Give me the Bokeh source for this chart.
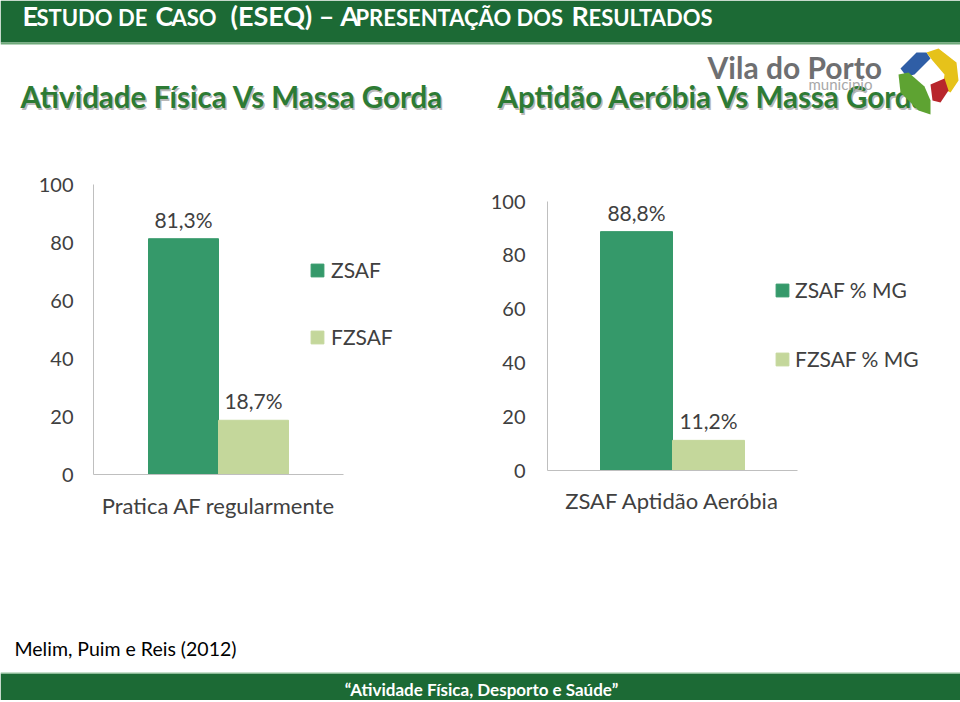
from bokeh.plotting import figure
from bokeh.models import Range1d, FixedTicker, ColumnDataSource, Legend, LegendItem
from bokeh.layouts import column, row
from bokeh.core.properties import value
from bokeh.embed import file_html
from bokeh.resources import INLINE

# ---------------- data ----------------
chart1_category = ["Pratica AF regularmente"]
chart1_series = ["ZSAF", "FZSAF"]
chart1_values = [81.3, 18.7]

chart2_category = ["ZSAF Aptidão Aeróbia"]
chart2_series = ["ZSAF % MG", "FZSAF % MG"]
chart2_values = [88.8, 11.2]

y_ticks = [0, 20, 40, 60, 80, 100]

subtitle_left = "Atividade Física Vs Massa Gorda"
subtitle_right = "Aptidão Aeróbia Vs Massa Gorda"
citation = "Melim, Puim e Reis (2012)"
footer_quote = "“Atividade Física, Desporto e Saúde”"

# ---------------- style ----------------
FONT = "Lato"
BAR_COLORS = ["#35996A", "#C4D79B"]
BANNER = "#1C6A35"
TEXT_DARK = "#404040"
AXIS_GREY = "#BFBFBF"


def fmt(v):
    return f"{v:.1f}".replace(".", ",") + "%"


def deco_fig(w, h, x0, x1, y0, y1):
    p = figure(width=w, height=h, x_range=Range1d(x0, x1), y_range=Range1d(y1, y0),
               output_backend="svg", toolbar_location=None,
               min_border=0, min_border_left=0, min_border_right=0,
               min_border_top=0, min_border_bottom=0)
    p.axis.visible = False
    p.grid.visible = False
    p.outline_line_color = None
    return p


def mid_y(baseline, size):
    # centre of the em box for a given alphabetic baseline
    return baseline - 0.36 * size


# ---------------- header ----------------
header = deco_fig(960, 165, 0, 960, 0, 165)
header.quad(left=[0], right=[960], top=[0], bottom=[42], fill_color=BANNER, line_color=None)
header.quad(left=[0], right=[960], top=[42], bottom=[44], fill_color="#6FA97A", line_color=None)

BIG, SMALL = 27, 22
title_segments = [
    ("E", 22, BIG),
    ("STUDO DE", 36, SMALL),
    ("C", 155, BIG),
    ("ASO", 171, SMALL),
    ("(ESEQ) – A", 230, BIG),
    ("PRESENTAÇÃO DOS", 355, SMALL),
    ("R", 571, BIG),
    ("ESULTADOS", 588, SMALL),
]
for txt, x, size in title_segments:
    header.text(x=[x], y=[mid_y(25, size)], text=[txt], text_font=value(FONT), text_font_style="bold",
                text_font_size=f"{size}px", text_color="white", text_baseline="middle",
                text_align="left")

SUB = 29.5
for txt, x in [(subtitle_left, 20), (subtitle_right, 497)]:
    header.text(x=[x + 1.5], y=[mid_y(107, SUB) + 1.5], text=[txt], text_font=value(FONT),
                text_font_style="bold", text_font_size=f"{SUB}px", text_color="#7A7A7A",
                text_alpha=0.55, text_baseline="middle", text_align="left")
    header.text(x=[x], y=[mid_y(107, SUB)], text=[txt], text_font=value(FONT), text_font_style="bold",
                text_font_size=f"{SUB}px", text_color="#2D7B34",
                text_baseline="middle", text_align="left")

# logo
header.text(x=[707], y=[mid_y(77, 30)], text=["Vila do Porto"], text_font=value(FONT),
            text_font_style="bold", text_font_size="30px", text_color="#6E6F71",
            text_baseline="middle")
header.text(x=[808], y=[mid_y(89, 15)], text=["municipio"], text_font=value(FONT),
            text_font_size="15px", text_color="#A8A8A8", text_baseline="middle")
logo_parts = [
    ([900, 916, 926, 930, 914, 906], [68, 52, 52, 58, 74, 76], "#2F5EA6"),
    ([926, 938, 956, 958, 950, 942, 944, 932], [52, 48, 62, 80, 92, 88, 74, 60], "#E6C21A"),
    ([898, 908, 924, 930, 930, 918, 900], [74, 72, 86, 100, 114, 110, 92], "#5EA332"),
    ([930, 944, 948, 940, 932], [84, 78, 90, 102, 100], "#B8262C"),
]
for xs, ys, c in logo_parts:
    header.patch(x=xs, y=ys, fill_color=c, line_color=None)


# ---------------- charts ----------------
AXIS_LEN = 250  # px length of one category slot on the x axis


def make_chart(cat, series, vals, w, h, bl, br, bt, bb, bw, loc, spacing, ystand, xstand, lstand):
    frame_w = w - bl - br
    p = figure(width=w, height=h, x_range=Range1d(0, frame_w / AXIS_LEN), y_range=Range1d(0, 100),
               output_backend="svg", toolbar_location=None,
               min_border_left=bl, min_border_right=br, min_border_top=bt, min_border_bottom=bb)
    p.outline_line_color = None
    p.grid.visible = False
    centres = [i + 0.5 for i in range(len(cat))]
    offsets = [-bw / 2, bw / 2]
    items = []
    for s, v, c, off in zip(series, vals, BAR_COLORS, offsets):
        src = ColumnDataSource(dict(x=[centres[0] + off], top=[v], label=[fmt(v)]))
        r = p.vbar(x="x", top="top", width=bw, source=src, fill_color=c, line_color=c)
        p.text(x="x", y="top", text="label", source=src,
               text_align="center", text_baseline="bottom", y_offset=-7,
               text_font=value(FONT), text_font_size="21px", text_color=TEXT_DARK)
        items.append(LegendItem(label=s, renderers=[r]))
    legend = Legend(items=items, location=loc, glyph_width=16, glyph_height=16, label_height=24,
                    label_standoff=lstand, spacing=spacing, padding=0, margin=0,
                    border_line_color=None, background_fill_alpha=0,
                    label_text_font=FONT, label_text_font_size="21px", label_text_color=TEXT_DARK)
    p.add_layout(legend)

    p.yaxis.ticker = FixedTicker(ticks=y_ticks)
    p.xaxis.ticker = FixedTicker(ticks=centres)
    p.xaxis.major_label_overrides = {c: name for c, name in zip(centres, cat)}
    p.xaxis.bounds = (0, len(cat))
    for ax in (p.xaxis, p.yaxis):
        ax.axis_line_color = AXIS_GREY
        ax.major_tick_line_color = None
        ax.minor_tick_line_color = None
        ax.major_tick_out = 0
        ax.major_tick_in = 0
        ax.major_label_text_font = FONT
        ax.major_label_text_color = TEXT_DARK
    p.yaxis.major_label_text_font_size = "20px"
    p.xaxis.major_label_text_font_size = "22px"
    p.yaxis.major_label_standoff = ystand
    p.xaxis.major_label_standoff = xstand
    return p


chart1 = make_chart(chart1_category, chart1_series, chart1_values,
                    480, 365, 93, 10, 19, 56, 0.28, (216, 125), 42, 20, 17, 6)
chart2 = make_chart(chart2_category, chart2_series, chart2_values,
                    480, 365, 67, 13, 36, 60, 0.288, (227, 99), 44, 22, 16, 5)

# ---------------- footer ----------------
footer = deco_fig(960, 170, 0, 960, 530, 700)
footer.text(x=[14], y=[648], text=[citation], text_font=value(FONT), text_font_size="19.5px",
            text_color="black", text_baseline="middle", text_align="left")
footer.quad(left=[0], right=[960], top=[673], bottom=[700], fill_color=BANNER, line_color=None)
footer.quad(left=[0], right=[960], top=[672], bottom=[673], fill_color="#8DBF97", line_color=None)
footer.text(x=[481], y=[689], text=[footer_quote], text_font=value(FONT), text_font_style="bold",
            text_font_size="17px", text_color="white", text_baseline="middle", text_align="center")

# each chart sits in its own box so that their plot frames are not aligned to each other
layout = column(header, row(column(chart1), column(chart2)), footer)

open("out.html", "w").write(file_html(layout, INLINE))
